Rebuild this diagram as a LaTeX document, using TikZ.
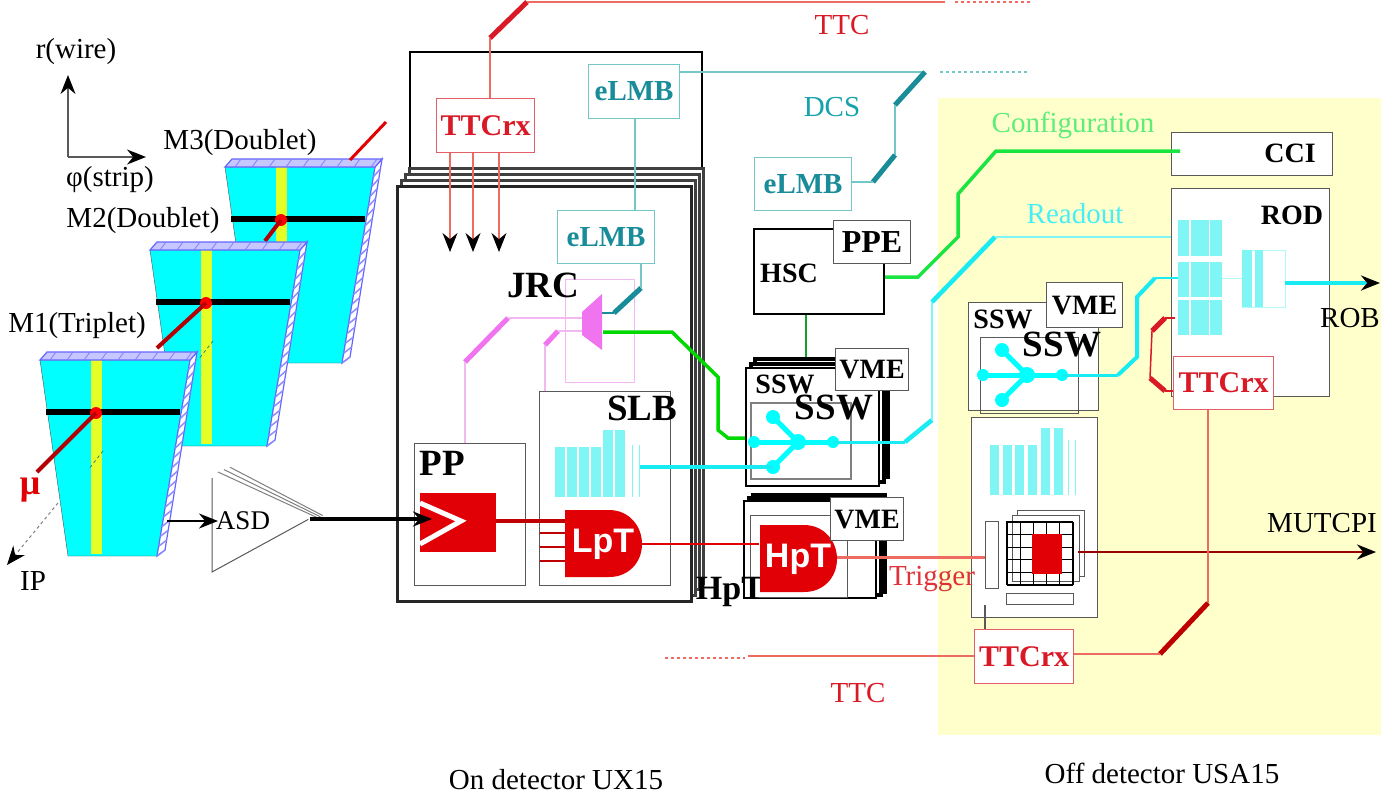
\documentclass[tikz,border=0pt]{standalone}
\usepackage{fontspec}
\setmainfont{Liberation Serif}
\setsansfont{Liberation Sans}
\usepackage{xcolor}
\usepackage{tikz}
\usetikzlibrary{arrows.meta}
\definecolor{offbg}{rgb}{1.0, 1.0, 0.8}
\definecolor{chcyan}{rgb}{0.0, 1.0, 1.0}
\definecolor{chyellow}{rgb}{0.9, 1.0, 0.15}
\definecolor{barcyan}{rgb}{0.5, 0.96, 0.96}
\definecolor{rdcyan}{rgb}{0.1, 0.92, 0.95}
\definecolor{cfggreen}{rgb}{0.1, 0.9, 0.25}
\definecolor{ttcred}{rgb}{0.85, 0.1, 0.15}
\definecolor{ttcthin}{rgb}{0.93, 0.42, 0.38}
\definecolor{gatered}{rgb}{0.88, 0.0, 0.02}
\definecolor{dcsteal}{rgb}{0.1, 0.55, 0.6}
\definecolor{dcsthin}{rgb}{0.45, 0.78, 0.78}
\definecolor{jrcpink}{rgb}{0.94, 0.45, 0.94}
\definecolor{jrcthin}{rgb}{0.95, 0.72, 0.95}
\definecolor{boxgray}{rgb}{0.35, 0.35, 0.35}
\tikzset{
    box/.style={draw=boxgray, line width=1.2pt, fill=white, inner sep=0pt, anchor=north west},
    ttcbox/.style={draw=ttcred!70, line width=1.2pt, fill=white, text=ttcred, inner sep=0pt, anchor=north west,
        font=\fontsize{30}{30}\selectfont\bfseries},
    lmbbox/.style={draw=dcsthin, line width=1.2pt, fill=white, text=dcsteal, inner sep=0pt, anchor=north west,
        font=\fontsize{29}{29}\selectfont\bfseries},
    tagbox/.style={box, font=\fontsize{28}{28}\selectfont\bfseries},
    note/.style={inner sep=0pt, font=\fontsize{29}{29}\selectfont},
    titlebig/.style={inner sep=0pt, font=\fontsize{37}{37}\selectfont\bfseries},
    titlesmall/.style={inner sep=0pt, font=\fontsize{28}{28}\selectfont\bfseries},
    gatetext/.style={inner sep=0pt, text=white, font=\fontsize{34}{34}\selectfont\sffamily\bfseries},
    tipped/.style={->, >={Stealth[black, length=19pt, width=15pt]}},
    thickslash/.style={line width=5pt},
}

\begin{document}
\begin{tikzpicture}[x=1pt, y=-1pt]
    \useasboundingbox (0,0) rectangle (1396,798);
    \fill[white] (0,0) rectangle (1396,798);
    \fill[offbg] (938,98) rectangle (1381,735);

    % axes
    \coordinate (origin) at (68,157);
    \coordinate (axisr) at (68,75);
    \coordinate (axisphi) at (146,157);
    \draw[tipped, boxgray, line width=1.5pt] (origin) -- (axisr);
    \draw[tipped, boxgray, line width=1.5pt] (origin) -- (axisphi);
    \node(lblwire)[note] at (76,52) {r(wire)};
    \node(lblstrip)[note] at (110,180) {φ(strip)};
    \node(lblm3)[note] at (240,143) {M3(Doublet)};
    \node(lblm2)[note] at (143,221) {M2(Doublet)};
    \node(lblm1)[note] at (77,326) {M1(Triplet)};

    % chambers, back to front
    \foreach \dx/\dy/\nm in {185/-193/3, 110/-110/2, 0/0/1} {
        \begin{scope}[shift={(\dx,\dy)}]
            \fill[chcyan] (40,360) -- (190,360) -- (157,556) -- (68,556) -- cycle;
            \draw[black!70, thin] (40,360) -- (190,360) -- (157,556) -- (68,556) -- cycle;
            \fill[chyellow] (91,360) rectangle (102,554);
            \fill[black] (46,409) rectangle (180,415);
            \draw[fill=white, draw=blue!60!white, line width=1.2pt] (190,360) -- (197,352) -- (165,550) -- (157,556) -- cycle;
            \draw[fill=blue!22!white, draw=blue!60!white, line width=1.2pt] (40,360) -- (47,352) -- (197,352) -- (190,360) -- cycle;
            \foreach \t in {0,...,8} {
                \draw[blue!50!white, line width=0.8pt] (50+\t*17,360) -- (56+\t*17,352);
            }
            \foreach \t in {1,...,20} {
                \draw[blue!45!white, line width=1.5pt] (190-\t*1.65,360+\t*9.8) -- (197-\t*1.6,352+\t*9.9);
            }
            \draw[teal!70!gray, line width=0.8pt, dashed] (103,451) -- (88,470);
            \coordinate (dot\nm) at (96,413);
        \end{scope}
        \fill[red] (dot\nm) circle (6pt);
        \ifnum\nm=3
            \coordinate (muonend3) at (265,241);
            \draw[gatered!80!black, line width=4pt] (dot3) -- (muonend3);
        \fi
        \ifnum\nm=2
            \coordinate (muonend2) at (157,348);
            \draw[gatered!80!black, line width=4pt] (dot2) -- (muonend2);
        \fi
    }
    \coordinate (muonend1) at (37,472);
    \draw[gatered!80!black, line width=4pt] (dot1) -- (muonend1);
    \coordinate (muontopa) at (350,160);
    \coordinate (muontopb) at (386,122);
    \draw[red!90!black, line width=3pt] (muontopa) -- (muontopb);
    \node(lblmu)[note, text=gatered, font=\fontsize{36}{36}\selectfont\bfseries] at (30,490) {μ};
    \coordinate (ipstart) at (58,503);
    \coordinate (iptip) at (7,565);
    \draw[tipped, gray, line width=1pt, dashed] (ipstart) -- (iptip);
    \node(lblip)[note] at (33,581) {IP};

    % ASD
    \foreach \o in {0,6,12} {
        \draw[gray, line width=1pt] (218+\o,472-\o*0.4) -- (318+\o*0.4,518-\o*0.2);
    }
    \node(asdtip) at (309,519) [inner sep=0pt] {};
    \draw[fill=white, draw=boxgray, line width=1pt] (212,478) -- (212,572) -- (asdtip) -- cycle;
    \node(lblasd)[note, font=\fontsize{27}{27}\selectfont] at (243,521) {ASD};
    \coordinate (asdin) at (167,521);
    \coordinate (asdend) at (218,521);
    \draw[tipped, black, line width=2pt] (asdin) -- (asdend);

    % on detector crate
    \node(crate)[box, draw=black, line width=2pt, minimum width=292pt, minimum height=116pt] at (409,51) {};
    \foreach \o in {12,8,4} {
        \node(stack\o)[box, draw=black!75, line width=3pt, minimum width=294pt, minimum height=415pt] at (396+\o,185-\o*1.5) {};
    }
    \node(front)[box, draw=black!85, line width=2.5pt, minimum width=294pt, minimum height=415pt] at (396,185) {};

    % TTC top
    \coordinate (ttcslasha) at (490,38);
    \coordinate (ttcslashb) at (527,2);
    \coordinate (ttctopend) at (945,2);
    \coordinate (ttcdasha) at (955,2);
    \coordinate (ttcdashb) at (1030,2);
    \node(ttcrxa)[ttcbox, minimum width=98pt, minimum height=54pt] at (436,98) {TTCrx};
    \draw[ttcred, thickslash] (ttcslasha) -- (ttcslashb);
    \draw[ttcthin, line width=1.5pt] (ttcslashb) -- (ttctopend);
    \draw[ttcthin, line width=1.5pt, dashed] (ttcdasha) -- (ttcdashb);
    \draw[ttcthin, line width=1.5pt] (ttcslasha) -- (ttcslasha |- ttcrxa.north);
    \node(lblttca)[note, text=ttcred] at (842,25) {TTC};
    \foreach \ax in {450,473,499} {
        \coordinate (fan\ax) at (\ax,252);
        \draw[tipped, ttcthin, line width=1.2pt] (fan\ax |- ttcrxa.south) -- (fan\ax);
    }

    % DCS
    \node(lmba)[lmbbox, minimum width=91pt, minimum height=54pt] at (588,64) {eLMB};
    \node(lmbb)[lmbbox, minimum width=97pt, minimum height=53pt] at (557,210) {eLMB};
    \node(lmbc)[lmbbox, minimum width=97pt, minimum height=53pt] at (754,157) {eLMB};
    \coordinate (dcsturn) at (925,72);
    \coordinate (dcsslash) at (895,105);
    \coordinate (dcsdrop) at (895,155);
    \coordinate (dcsstub) at (873,182);
    \coordinate (dcsdasha) at (940,72);
    \coordinate (dcsdashb) at (1030,72);
    \draw[dcsthin, line width=1.5pt] (lmba.east |- dcsturn) -- (dcsturn);
    \draw[dcsthin, line width=1.5pt, dashed] (dcsdasha) -- (dcsdashb);
    \draw[dcsteal, thickslash] (dcsslash) -- (dcsturn);
    \draw[dcsthin, line width=1.5pt] (dcsslash) -- (dcsdrop);
    \draw[dcsteal, thickslash] (dcsstub) -- (dcsdrop);
    \draw[dcsthin, line width=1.5pt] (lmbc.east |- dcsstub) -- (dcsstub);
    \coordinate (lmblink) at (635,118);
    \draw[dcsthin, line width=1.5pt] (lmblink) -- (lmblink |- lmbb.north);
    \node(lbldcs)[note, text=dcsteal!80!chcyan] at (832,107) {DCS};

    % JRC
    \node(jrc)[box, draw=jrcthin, fill=none, minimum width=69pt, minimum height=103pt] at (565,279) {};
    \node(lbljrc)[titlebig] at (543,285) {JRC};
    \coordinate (pinka) at (465,362);
    \coordinate (pinkb) at (508,318);
    \coordinate (pinkc) at (545,345);
    \coordinate (pinkd) at (558,331);
    \coordinate (jrcouta) at (582,318);
    \coordinate (jrcoutb) at (582,331);
    \draw[jrcpink, thickslash] (pinka) -- (pinkb);
    \draw[jrcpink, thickslash] (pinkc) -- (pinkd);
    \draw[jrcthin, line width=1.2pt] (pinkb) -- (jrcouta);
    \draw[jrcthin, line width=1.2pt] (pinkd) -- (jrcoutb);
    \fill[jrcpink] (582,312) -- (602,294) -- (602,350) -- (582,335) -- cycle;
    \coordinate (jrcdcs) at (602,313);
    \coordinate (dcsjrca) at (614,313);
    \coordinate (dcsjrcb) at (641,288);
    \draw[dcsteal, line width=1.5pt] (jrcdcs) -- (dcsjrca);
    \draw[dcsteal, thickslash] (dcsjrca) -- (dcsjrcb);
    \draw[dcsthin, line width=1.5pt] (dcsjrcb |- lmbb.south) -- (dcsjrcb);

    % PP and SLB
    \node(pp)[box, minimum width=111pt, minimum height=142pt] at (414,443) {};
    \node(lblpp)[titlebig] at (442,463) {PP};
    \node(slb)[box, minimum width=131pt, minimum height=194pt] at (539,391) {};
    \node(lblslb)[titlebig] at (642,408) {SLB};
    \draw[jrcthin, line width=1.2pt] (pinka) -- (pinka |- pp.north);
    \draw[jrcthin, line width=1.2pt] (pinkc) -- (pinkc |- slb.north);
    \fill[gatered] (420,493) rectangle (496,552);
    \draw[white, line width=5pt] (420,503) -- (461,521) -- (420,544);
    \coordinate (ppout) at (496,521);
    \foreach \bar [count=\i from 0] in {447,447,447,447,430,430} {
        \fill[barcyan] (555+\i*12,\bar) rectangle (564.5+\i*12,497);
    }
    \foreach \fx in {632,639} {
        \draw[barcyan, thin] (\fx,445) -- (\fx,497);
    }

    % gates
    \foreach \gy in {533,547,561} {
        \coordinate (inpa\gy) at (540,\gy);
        \draw[gatered!85!black, line width=2.5pt] (inpa\gy) -- (566,\gy);
    }
    \draw[gatered!85!black, line width=4.5pt] (ppout) -- (566,521);
    \coordinate (ppintip) at (432,519);
    \draw[tipped, black, line width=3.5pt] (asdtip) -- (ppintip);

    % boards in the middle
    \node(hsc)[box, draw=black, line width=2pt, minimum width=130pt, minimum height=85pt] at (753,228) {};
    \node(lblhsc)[titlesmall] at (789,273) {HSC};
    \node(ppe)[box, minimum width=77pt, minimum height=43pt, font=\fontsize{32}{32}\selectfont\bfseries] at (833,220) {PPE};
    \coordinate (hsclink) at (806,367);
    \draw[cfggreen!70!black, line width=1.5pt] (hsclink |- hsc.south) -- (hsclink);

    \foreach \o in {8,4} {
        \node(sswback\o)[box, draw=black, line width=4pt, minimum width=133pt, minimum height=118pt] at (745+\o,367-\o*1.2) {};
    }
    \node(sswa)[box, draw=black, line width=2pt, minimum width=133pt, minimum height=118pt] at (745,367) {};
    \node(sswinnera)[box, draw=gray, line width=2pt, minimum width=100pt, minimum height=76pt] at (750,402) {};
    \node(lblsswa)[titlesmall] at (785,384) {SSW};
    \node(lblsswb)[titlebig] at (834,408) {SSW};
    \node(vmea)[tagbox, minimum width=73pt, minimum height=42pt] at (835,348) {VME};

    \foreach \o in {8,4} {
        \node(hptback\o)[box, draw=black, line width=4pt, minimum width=132pt, minimum height=97pt] at (743+\o,500-\o*0.9) {};
    }
    \node(hptbox)[box, draw=black, line width=2pt, minimum width=132pt, minimum height=97pt] at (743,500) {};
    \node(hptinner)[box, minimum width=97pt, minimum height=82pt] at (750,515) {};
    \node(lblhpt)[titlebig, font=\fontsize{34}{34}\selectfont\bfseries] at (730,592) {HpT};

    \foreach \gx/\gy/\nm in {565/510/LpT, 760/525/HpT} {
        \fill[gatered, shift={(\gx,\gy)}] (0,0) -- (44,0) .. controls (64,0) and (77,16) .. (77,34)
            .. controls (77,52) and (64,67) .. (44,67) -- (0,67) -- cycle;
        \node(gate-\nm)[gatetext, minimum width=77pt, minimum height=67pt] at (\gx+38,\gy+34) {\nm};
    }
    \draw[gatered, line width=2pt] (gate-LpT.east) -- (gate-HpT.west |- gate-LpT.east);
    \node(vmeb)[tagbox, minimum width=73pt, minimum height=43pt] at (830,497) {VME};

    % trigger board
    \node(trigboard)[box, minimum width=126pt, minimum height=200pt] at (971,417) {};
    \foreach \bar [count=\i from 0] in {445,445,445,445,428,428} {
        \fill[barcyan] (990+\i*12.7,\bar) rectangle (999+\i*12.7,495);
    }
    \foreach \fx in {1068,1075} {
        \draw[barcyan, thin] (\fx,440) -- (\fx,495);
    }
    \node(trigv)[box, minimum width=13pt, minimum height=67pt] at (985,521) {};
    \node(trigh)[box, minimum width=67pt, minimum height=11pt] at (1006,593) {};
    \node(matc)[box, line width=1pt, minimum width=67pt, minimum height=66pt] at (1017,510) {};
    \node(matb)[box, line width=1pt, minimum width=67pt, minimum height=66pt] at (1012,515) {};
    \foreach \i in {0,...,5} {
        \draw[black, line width=1.2pt] (1007+\i*13.2,522) -- (1007+\i*13.2,585);
        \draw[black, line width=1.2pt] (1007,522+\i*12.6) -- (1073,522+\i*12.6);
    }
    \draw[black, line width=2.5pt] (1007,585) -- (1007,522) -- (1073,522);
    \fill[gatered] (1032,534) rectangle (1062,574);
    \coordinate (trigout) at (1078,552);
    \coordinate (mutcpitip) at (1376,552);
    \draw[tipped, red!60!black, line width=2.5pt] (trigout) -- (mutcpitip);
    \node(lblmut)[note] at (1322,523) {MUTCPI};
    \coordinate (trigin) at (985,557);
    \draw[ttcthin, line width=3pt] (gate-HpT.east |- trigin) -- (trigin);
    \node(lbltrig)[note, text=ttcred!70!ttcthin] at (932,579) {Trigger};

    % off detector crates
    \node(cci)[box, minimum width=161pt, minimum height=43pt] at (1171,132) {};
    \node(lblcci)[titlesmall] at (1290,153) {CCI};
    \node(rod)[box, minimum width=158pt, minimum height=208pt] at (1171,188) {};
    \node(lblrod)[titlesmall] at (1292,215) {ROD};
    \foreach \ry/\rh in {220/36, 262/35, 300/35} {
        \fill[barcyan] (1178,\ry) rectangle (1189,\ry+\rh);
        \fill[barcyan] (1191,\ry) rectangle (1208.5,\ry+\rh);
        \fill[barcyan] (1210,\ry) rectangle (1222,\ry+\rh);
    }
    \draw[barcyan!60, thin] (1222,278) -- (1242,278);
    \draw[barcyan!60, thin] (1242,250) rectangle (1285,307);
    \fill[barcyan] (1242,250) rectangle (1252,307);
    \fill[barcyan] (1255,250) rectangle (1263,307);
    \coordinate (robstart) at (1285,283);
    \coordinate (robtip) at (1380,283);
    \draw[tipped, rdcyan, line width=3.5pt] (robstart) -- (robtip);
    \node(lblrob)[note] at (1350,318) {ROB};

    \node(sswc)[box, minimum width=130pt, minimum height=108pt] at (968,302) {};
    \node(sswinnerc)[box, fill=none, minimum width=98pt, minimum height=76pt] at (980,337) {};
    \node(lblsswc)[titlesmall] at (1003,319) {SSW};
    \node(lblsswd)[titlebig] at (1062,345) {SSW};
    \node(vmec)[tagbox, minimum width=76pt, minimum height=45pt] at (1046,282) {VME};

    % cyan fans
    \foreach \sx/\sy/\nm in {773/417/a, 1002/350/c} {
        \coordinate (fantop\nm) at (\sx,\sy);
        \coordinate (fanjoin\nm) at (\sx+25,\sy+25);
        \coordinate (fanlow\nm) at (\sx,\sy+50);
        \coordinate (fanleft\nm) at (\sx-19,\sy+25);
        \coordinate (fanknot\nm) at (\sx+60,\sy+25);
        \draw[chcyan, line width=5pt] (fanleft\nm) -- (fanknot\nm);
        \draw[chcyan, line width=5pt] (fantop\nm) -- (fanjoin\nm) -- (fanlow\nm);
        \fill[chcyan] (fantop\nm) circle (7pt);
        \fill[chcyan] (fanlow\nm) circle (7pt);
        \fill[chcyan] (fanleft\nm) circle (6pt);
        \fill[chcyan] (fanjoin\nm) circle (8pt);
        \fill[chcyan] (fanknot\nm) circle (6pt);
    }
    \coordinate (slbout) at (640,467);
    \draw[rdcyan, line width=4pt] (slbout) -- (fanlowa);
    \coordinate (rdturna) at (905,442);
    \coordinate (rdturnb) at (932,420);
    \coordinate (rdturnc) at (932,302);
    \coordinate (rdturnd) at (995,237);
    \draw[rdcyan, line width=3pt] (fanknota) -- (rdturna);
    \draw[rdcyan, line width=4.5pt] (rdturna) -- (rdturnb);
    \draw[barcyan, line width=2pt] (rdturnb) -- (rdturnc);
    \draw[rdcyan, line width=4.5pt] (rdturnc) -- (rdturnd);
    \draw[barcyan, line width=2pt] (rdturnd) -- (rod.west |- rdturnd);
    \node(lblread)[note, text=rdcyan!80!white] at (1075,214) {Readout};
    \coordinate (rocturna) at (1118,375);
    \coordinate (rocturnb) at (1137,357);
    \coordinate (rocturnc) at (1137,297);
    \coordinate (rocturnd) at (1155,278);
    \coordinate (rocend) at (1178,278);
    \draw[rdcyan, line width=3pt] (fanknotc) -- (rocturna);
    \draw[rdcyan, line width=4pt] (rocturna) -- (rocturnb) -- (rocturnc) -- (rocturnd);
    \draw[rdcyan, line width=2pt] (rocturnd) -- (rocend);

    % configuration
    \coordinate (jrcgreen) at (603,332);
    \coordinate (grna) at (672,332);
    \coordinate (grnb) at (718,377);
    \coordinate (grnc) at (718,430);
    \coordinate (grnd) at (728,438);
    \coordinate (grne) at (745,438);
    \draw[green!85!black, line width=3.5pt] (jrcgreen) -- (grna) -- (grnb) -- (grnc) -- (grnd) -- (grne);
    \coordinate (cfga) at (885,277);
    \coordinate (cfgb) at (918,277);
    \coordinate (cfgc) at (958,237);
    \coordinate (cfgd) at (958,194);
    \coordinate (cfge) at (996,151);
    \coordinate (cfgf) at (1180,151);
    \draw[cfggreen, line width=3.5pt] (cfga) -- (cfgb) -- (cfgc) -- (cfgd) -- (cfge) -- (cfgf);
    \node(lblcfg)[note, text=cfggreen!70!white] at (1073,125) {Configuration};

    % TTC bottom
    \node(ttcrxb)[ttcbox, minimum width=100pt, minimum height=53pt] at (1173,356) {TTCrx};
    \node(ttcrxc)[ttcbox, minimum width=99pt, minimum height=54pt] at (974,629) {TTCrx};
    \coordinate (rodttca) at (1175,318);
    \coordinate (rodttcb) at (1165,318);
    \coordinate (rodttcc) at (1152,331);
    \coordinate (rodttcd) at (1150,378);
    \coordinate (rodttce) at (1165,391);
    \draw[ttcred, line width=1.5pt] (rodttca) -- (rodttcb);
    \draw[ttcred, thickslash] (rodttcb) -- (rodttcc);
    \draw[ttcred, line width=1.5pt] (rodttcc) -- (rodttcd);
    \draw[ttcred, thickslash] (rodttcd) -- (rodttce);
    \draw[ttcred, line width=1.5pt] (rodttce) -- (ttcrxb.west |- rodttce);
    \coordinate (ttcdrop) at (1208,603);
    \coordinate (ttcfoot) at (1160,654);
    \coordinate (ttclefta) at (748,656);
    \coordinate (ttcdashc) at (665,658);
    \coordinate (ttcdashd) at (745,658);
    \draw[ttcthin, line width=2pt] (ttcdrop |- ttcrxb.south) -- (ttcdrop);
    \draw[red!75!black, thickslash] (ttcdrop) -- (ttcfoot);
    \draw[ttcthin, line width=2pt] (ttcfoot) -- (ttcrxc.east |- ttcfoot);
    \draw[ttcthin, line width=1.5pt] (ttcrxc.west |- ttclefta) -- (ttclefta);
    \draw[ttcthin, line width=1.5pt, dashed] (ttcdashc) -- (ttcdashd);
    \coordinate (trigtick) at (985,605);
    \draw[boxgray, line width=1.2pt] (trigtick) -- (trigtick |- ttcrxc.north);
    \node(lblttcb)[note, text=ttcred] at (858,693) {TTC};

    \node(lblon)[note] at (556,780) {On detector UX15};
    \node(lbloff)[note] at (1162,773) {Off detector USA15};
\end{tikzpicture}
\end{document}
